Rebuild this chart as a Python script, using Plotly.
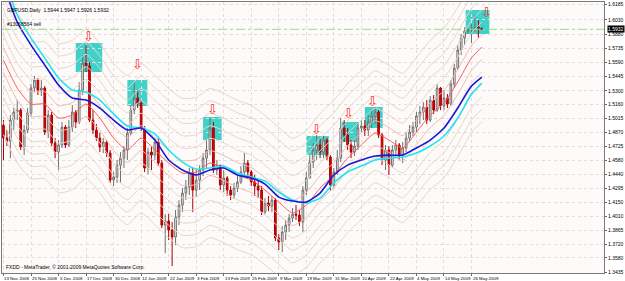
import plotly.graph_objects as go
import pandas as pd

# ---------------- data ----------------
dates = [d for d in pd.bdate_range("2008-11-13", "2009-05-29")
         if (d.month, d.day) not in [(12, 25), (1, 1)]]
bars = list(range(len(dates)))

first_open = 1.4947
close = [1.4813, 1.4782, 1.4998, 1.5081, 1.5101, 1.4721, 1.4896, 1.5070, 1.5328, 1.5410,
         1.5307, 1.5328, 1.4875, 1.5050, 1.4762, 1.4669, 1.4742, 1.4926, 1.4742, 1.4926,
         1.5081, 1.4978, 1.5307, 1.5585, 1.5554, 1.4998, 1.4896, 1.4813, 1.4721, 1.4772,
         1.4659, 1.4381, 1.4412, 1.4535, 1.4607, 1.4690, 1.4865, 1.5101, 1.5225, 1.5173,
         1.4916, 1.4505, 1.4669, 1.4638, 1.4772, 1.4556, 1.3918, 1.3959, 1.3867, 1.3795,
         1.4001, 1.4124, 1.4247, 1.4309, 1.4453, 1.4278, 1.4381, 1.4484, 1.4607, 1.4690,
         1.4916, 1.4484, 1.4535, 1.4330, 1.4402, 1.4278, 1.4227, 1.4299, 1.4361, 1.4464,
         1.4556, 1.4464, 1.4361, 1.4319, 1.4278, 1.4052, 1.4145, 1.4114, 1.4175, 1.3785,
         1.3744, 1.3846, 1.3918, 1.3990, 1.4031, 1.4021, 1.3949, 1.4278, 1.4402, 1.4566,
         1.4690, 1.4742, 1.4669, 1.4793, 1.4618, 1.4330, 1.4464, 1.4607, 1.4916, 1.4844,
         1.4742, 1.4669, 1.4731, 1.4916, 1.4937, 1.4896, 1.4978, 1.5040, 1.5081, 1.4844,
         1.4587, 1.4690, 1.4535, 1.4690, 1.4742, 1.4638, 1.4711, 1.4813, 1.4875, 1.4926,
         1.5040, 1.5081, 1.5132, 1.4998, 1.5204, 1.5101, 1.5328, 1.5143, 1.5225, 1.5163,
         1.5369, 1.5533, 1.5719, 1.5842, 1.5914, 1.5924, 1.5935, 1.5955, 1.5944, 1.5932]
high = [1.4998, 1.4896, 1.5050, 1.5122, 1.5204, 1.5122, 1.4947, 1.5122, 1.5369, 1.5451,
        1.5431, 1.5410, 1.5348, 1.5101, 1.5081, 1.4813, 1.4793, 1.4978, 1.4947, 1.4998,
        1.5153, 1.5101, 1.5389, 1.5667, 1.5770, 1.5595, 1.5101, 1.4957, 1.4865, 1.4813,
        1.4793, 1.4690, 1.4464, 1.4587, 1.4669, 1.4731, 1.4916, 1.5153, 1.5379, 1.5307,
        1.5204, 1.4937, 1.4711, 1.4721, 1.4813, 1.4813, 1.4587, 1.4031, 1.4031, 1.3949,
        1.4073, 1.4175, 1.4299, 1.4381, 1.4505, 1.4505, 1.4484, 1.4535, 1.4659, 1.4793,
        1.5019, 1.4978, 1.4587, 1.4535, 1.4484, 1.4422, 1.4319, 1.4351, 1.4433, 1.4525,
        1.4659, 1.4587, 1.4484, 1.4433, 1.4381, 1.4319, 1.4196, 1.4217, 1.4217, 1.4196,
        1.3826, 1.3908, 1.3970, 1.4031, 1.4093, 1.4124, 1.4073, 1.4319, 1.4464, 1.4638,
        1.4762, 1.4844, 1.4813, 1.4834, 1.4813, 1.4638, 1.4505, 1.4690, 1.5019, 1.4998,
        1.4916, 1.4793, 1.4793, 1.4978, 1.4998, 1.4998, 1.5050, 1.5101, 1.5132, 1.5101,
        1.4865, 1.4742, 1.4731, 1.4742, 1.4793, 1.4762, 1.4772, 1.4875, 1.4947, 1.4978,
        1.5081, 1.5143, 1.5184, 1.5204, 1.5245, 1.5256, 1.5369, 1.5338, 1.5307, 1.5266,
        1.5410, 1.5575, 1.5770, 1.5883, 1.5955, 1.5945, 1.5986, 1.6079, 1.6028, 1.5947]
low = [1.4587, 1.4731, 1.4607, 1.4896, 1.4998, 1.4690, 1.4638, 1.4865, 1.5040, 1.5287,
       1.5256, 1.5246, 1.4844, 1.4813, 1.4731, 1.4607, 1.4484, 1.4711, 1.4711, 1.4721,
       1.4875, 1.4916, 1.4957, 1.5256, 1.5492, 1.4978, 1.4855, 1.4782, 1.4669, 1.4659,
       1.4618, 1.4351, 1.4319, 1.4351, 1.4351, 1.4505, 1.4587, 1.4844, 1.5060, 1.5122,
       1.4885, 1.4463, 1.4443, 1.4484, 1.4587, 1.4525, 1.3887, 1.3630, 1.3764, 1.3497,
       1.3712, 1.3918, 1.4052, 1.4175, 1.4227, 1.4052, 1.4206, 1.4278, 1.4422, 1.4505,
       1.4638, 1.4453, 1.4433, 1.4278, 1.4258, 1.4217, 1.4175, 1.4186, 1.4258, 1.4340,
       1.4433, 1.4402, 1.4319, 1.4217, 1.4196, 1.4021, 1.4031, 1.4062, 1.4052, 1.3754,
       1.3661, 1.3640, 1.3764, 1.3846, 1.3949, 1.3970, 1.3908, 1.3846, 1.4227, 1.4402,
       1.4505, 1.4587, 1.4607, 1.4607, 1.4587, 1.4278, 1.4299, 1.4433, 1.4567, 1.4772,
       1.4690, 1.4607, 1.4628, 1.4690, 1.4875, 1.4834, 1.4834, 1.4916, 1.4957, 1.4813,
       1.4535, 1.4484, 1.4433, 1.4505, 1.4628, 1.4587, 1.4556, 1.4669, 1.4772, 1.4834,
       1.4875, 1.4957, 1.4998, 1.4957, 1.4978, 1.5060, 1.5081, 1.5101, 1.5101, 1.5122,
       1.5143, 1.5328, 1.5513, 1.5667, 1.5770, 1.5883, 1.5791, 1.5904, 1.5842, 1.5926]
open_ = [first_open] + close[:-1]

# indicator lines, read at every 4th bar
line_bars = list(range(0, 137, 4)) + [139]
fast_ma = [1.5616, 1.5328, 1.5163, 1.5163, 1.5019, 1.5050, 1.5163, 1.5019, 1.4813, 1.4690,
           1.4813, 1.4690, 1.4556, 1.4453, 1.4464, 1.4556, 1.4505, 1.4433, 1.4381, 1.4278,
           1.4155, 1.4042, 1.4124, 1.4299, 1.4433, 1.4607, 1.4742, 1.4865, 1.4793, 1.4711,
           1.4875, 1.5050, 1.5174, 1.5390, 1.5637, 1.5750]
mid_ma = [1.6387, 1.6007, 1.5770, 1.5564, 1.5359, 1.5225, 1.5204, 1.5122, 1.4998, 1.4896,
          1.4916, 1.4793, 1.4587, 1.4484, 1.4433, 1.4484, 1.4505, 1.4433, 1.4402, 1.4340,
          1.4206, 1.4165, 1.4155, 1.4247, 1.4433, 1.4535, 1.4587, 1.4628, 1.4638, 1.4638,
          1.4711, 1.4793, 1.4916, 1.5122, 1.5348, 1.5441]
slow_ma = [1.6490, 1.6079, 1.5842, 1.5636, 1.5431, 1.5307, 1.5287, 1.5204, 1.5060, 1.4937,
           1.4916, 1.4855, 1.4690, 1.4566, 1.4494, 1.4505, 1.4525, 1.4453, 1.4412, 1.4371,
           1.4258, 1.4175, 1.4145, 1.4196, 1.4351, 1.4464, 1.4525, 1.4587, 1.4607, 1.4618,
           1.4659, 1.4731, 1.4834, 1.5019, 1.5266, 1.5380]
band_steps = [-6, -5, -4, -3, -2, -1, 1, 2, 3, 4, 5, 6]
band_gap = 0.0128

# highlighted zones and sell arrows
box_start = [21.0, 36.0, 58.0, 88.0, 98.3, 105.0, 134.3]
box_end = [28.7, 41.8, 63.4, 94.5, 103.2, 110.2, 141.2]
box_top = [1.5791, 1.5410, 1.5030, 1.4834, 1.4978, 1.5133, 1.6131]
box_bottom = [1.5493, 1.5143, 1.4793, 1.4639, 1.4773, 1.4917, 1.5884]
arrow_bar = [24.8, 38.8, 60.8, 91.0, 100.3, 107.2, 140.3]
arrow_price = [1.5853, 1.5570, 1.5112, 1.4901, 1.5061, 1.5194, 1.6100]

price_ticks = [1.6185, 1.6030, 1.5880, 1.5735, 1.5590, 1.5445, 1.5300, 1.5160, 1.5015, 1.4870,
               1.4725, 1.4580, 1.4440, 1.4295, 1.4150, 1.4010, 1.3865, 1.3720, 1.3580, 1.3435]
label_bars = list(range(0, 137, 8))
label_text = [f"{dates[i].day} {dates[i].strftime('%b %Y')}" for i in label_bars]
current_price = 1.5932
header = "GBPUSD,Daily  1.5944 1.5947 1.5926 1.5932"
order_label = "#13058564 sell"
copyright_text = "FXDD - MetaTrader, © 2001-2009 MetaQuotes Software Corp."

# ---------------- figure ----------------
FONT = "Liberation Sans"
fig = go.Figure()

for k in band_steps:
    col = "#F2B8B0" if abs(k) == 1 else "#E9D6C6"
    fig.add_trace(go.Scatter(
        x=line_bars, y=[v + k * band_gap for v in fast_ma], mode="lines",
        line=dict(color=col, width=1, shape="spline", smoothing=0.6),
        hoverinfo="skip", showlegend=False))

fig.add_trace(go.Candlestick(
    x=bars, open=open_, high=high, low=low, close=close,
    increasing=dict(line=dict(color="#707070", width=1), fillcolor="#F2F2F2"),
    decreasing=dict(line=dict(color="#A80000", width=1), fillcolor="#E80000"),
    whiskerwidth=0, hoverinfo="skip", showlegend=False))

fig.add_trace(go.Scatter(x=line_bars, y=fast_ma, mode="lines",
                         line=dict(color="#FF5A5A", width=1, shape="spline", smoothing=0.6),
                         hoverinfo="skip", showlegend=False))
fig.add_trace(go.Scatter(x=line_bars, y=slow_ma, mode="lines",
                         line=dict(color="#22E4F0", width=1.6, shape="spline", smoothing=0.6),
                         hoverinfo="skip", showlegend=False))
fig.add_trace(go.Scatter(x=line_bars, y=mid_ma, mode="lines",
                         line=dict(color="#1818D8", width=1.6, shape="spline", smoothing=0.6),
                         hoverinfo="skip", showlegend=False))

shapes = []
for x0, x1, y0, y1 in zip(box_start, box_end, box_bottom, box_top):
    shapes.append(dict(type="rect", xref="x", yref="y", x0=x0, x1=x1, y0=y0, y1=y1,
                       fillcolor="rgb(62,210,202)", line=dict(width=0), layer="below"))
shapes.append(dict(type="line", xref="paper", yref="y", x0=0, x1=1,
                   y0=current_price, y1=current_price,
                   line=dict(color="#8EE08E", width=1, dash="dashdot")))

annotations = []
for xb, yp in zip(arrow_bar, arrow_price):
    annotations.append(dict(x=xb, y=yp, xref="x", yref="y", text="⇩", showarrow=False,
                            font=dict(family="DejaVu Sans", size=13, color="#FF2A2A"),
                            xanchor="center", yanchor="middle"))
for xb, t in zip(label_bars, label_text):
    annotations.append(dict(x=xb, y=0, xref="x", yref="paper", text=t, showarrow=False,
                            font=dict(family=FONT, size=4.4, color="#000000"),
                            xanchor="left", yanchor="top", xshift=-1, yshift=-1))
annotations.append(dict(x=0, y=1, xref="paper", yref="paper", text=header, showarrow=False,
                        font=dict(family=FONT, size=5, color="#000000"),
                        xanchor="left", yanchor="top", xshift=3, yshift=-3))
annotations.append(dict(x=0, y=current_price, xref="paper", yref="y", text=order_label,
                        showarrow=False, font=dict(family=FONT, size=5, color="#000000"),
                        xanchor="left", yanchor="bottom", xshift=3, yshift=0))
annotations.append(dict(x=0, y=0, xref="paper", yref="paper", text=copyright_text,
                        showarrow=False, font=dict(family=FONT, size=5, color="#000000"),
                        xanchor="left", yanchor="bottom", xshift=2, yshift=1))
annotations.append(dict(x=1, y=current_price, xref="paper", yref="y", text=f"{current_price:.4f}",
                        showarrow=False, font=dict(family=FONT, size=5, color="#FFFFFF"),
                        bgcolor="#000000", borderpad=0, xanchor="left", yanchor="middle",
                        xshift=3))

fig.update_layout(
    width=625, height=281,
    margin=dict(l=1, r=17, t=2, b=8),
    paper_bgcolor="#FFFFFF", plot_bgcolor="#FDFAFA",
    shapes=shapes, annotations=annotations,
    font=dict(family=FONT, size=5, color="#000000"),
    xaxis=dict(range=[-0.43, 174.5], tickvals=label_bars, showticklabels=False,
               ticks="outside", ticklen=2, tickcolor="#666666",
               showgrid=True, gridcolor="#E6DADA", griddash="dot", gridwidth=1,
               showline=True, linecolor="#7A7A7A", linewidth=1, mirror=True,
               zeroline=False, rangeslider=dict(visible=False), fixedrange=True),
    yaxis=dict(range=[1.3425, 1.6213], side="right", tickvals=price_ticks,
               ticktext=[f"{v:.4f}" for v in price_ticks],
               tickfont=dict(family=FONT, size=5, color="#000000"),
               ticks="outside", ticklen=2, tickcolor="#666666",
               showgrid=True, gridcolor="#E6DADA", griddash="dot", gridwidth=1,
               showline=True, linecolor="#7A7A7A", linewidth=1, mirror=True,
               zeroline=False, fixedrange=True),
    hovermode=False,
)

fig.write_html("out.html")
